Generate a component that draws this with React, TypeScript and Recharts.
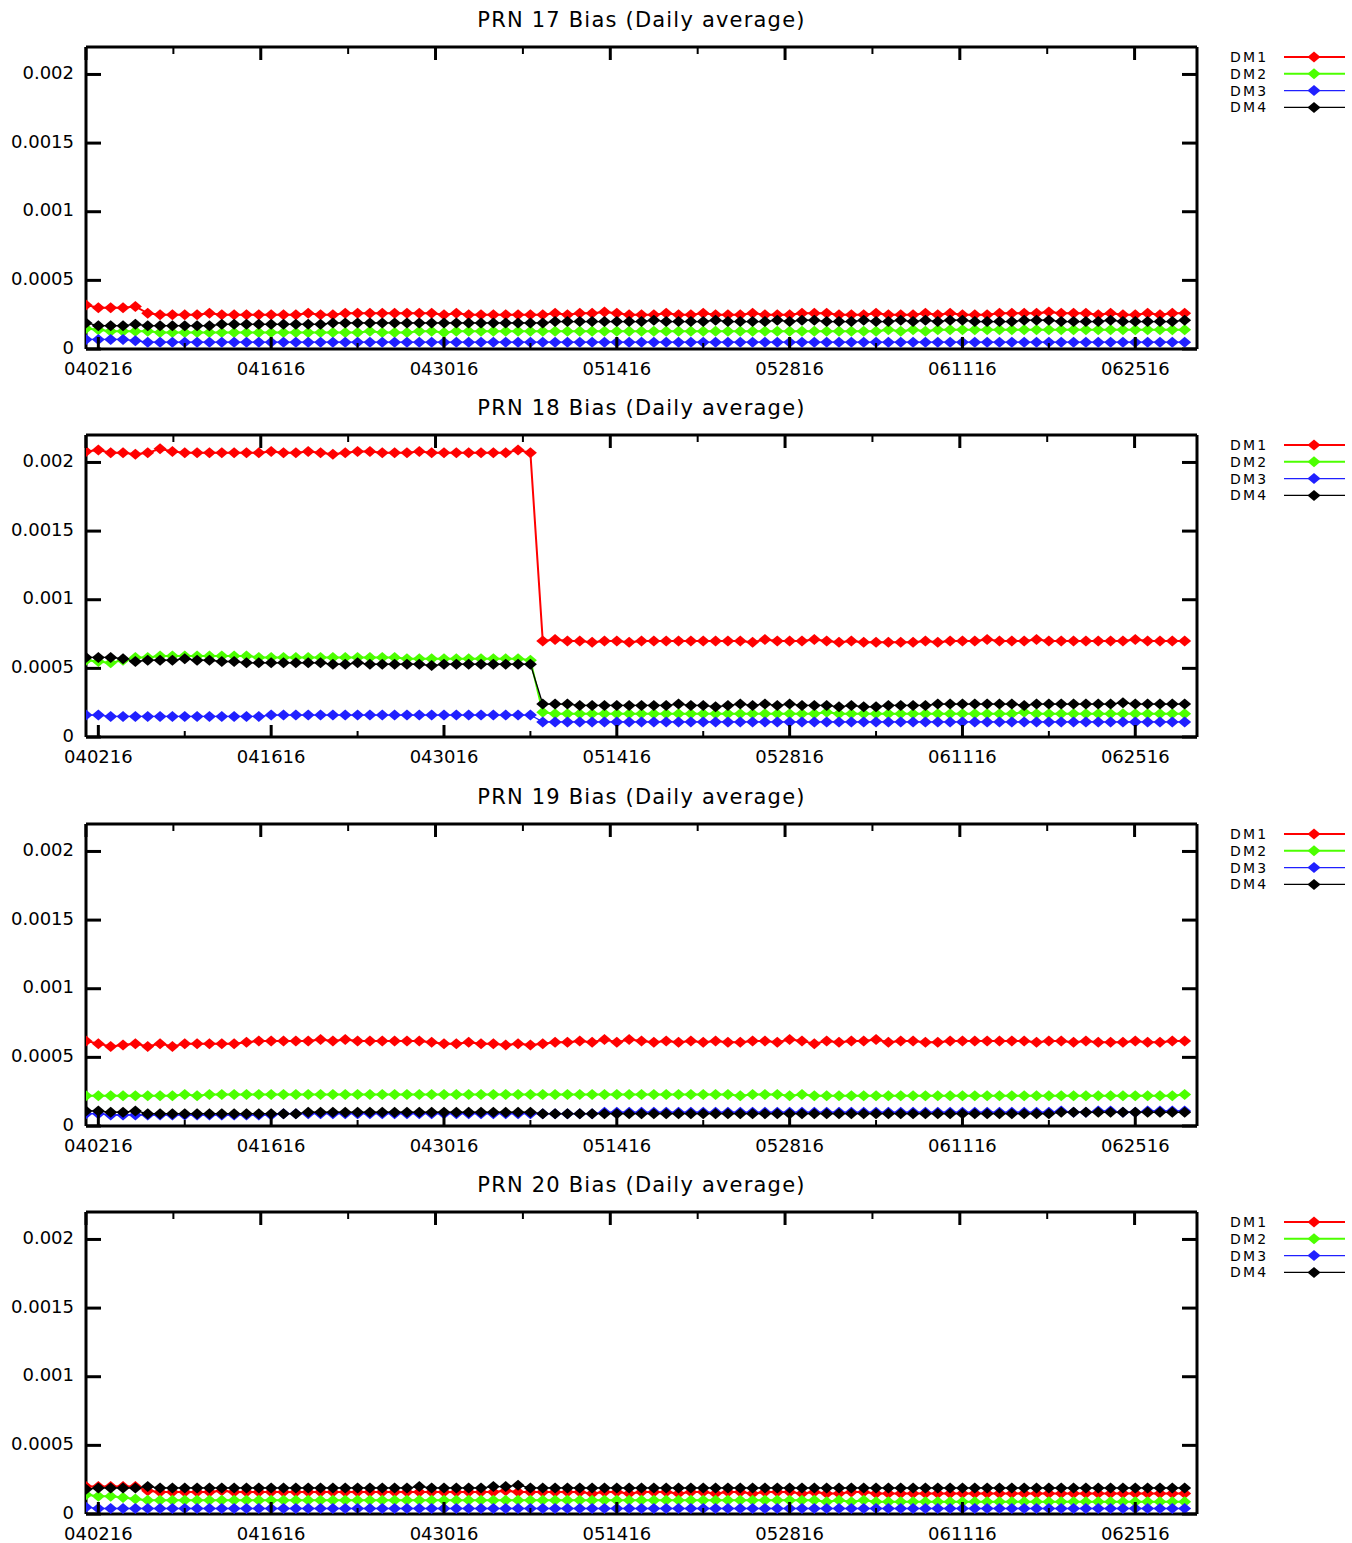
import React from "react";
import { LineChart, Line, XAxis, YAxis, Legend } from "recharts";

// values are in units of 1e-5, one point per day from 040116 to 062916
const UNIT = 1e-5;

const prn17Dm1 = [
  32, 30, 30, 30, 31, 26, 25, 25, 25, 25,
  26, 25, 25, 25, 25, 25, 25, 25, 26, 25,
  25, 26, 26, 26, 26, 26, 26, 26, 26, 25,
  26, 25, 25, 25, 25, 25, 25, 25, 26, 25,
  26, 26, 27, 26, 25, 25, 25, 26, 25, 25,
  26, 25, 25, 25, 26, 25, 25, 25, 26, 26,
  26, 25, 25, 25, 26, 25, 25, 25, 26, 25,
  26, 25, 25, 25, 26, 26, 26, 26, 27, 26,
  26, 26, 25, 26, 25, 25, 26, 25, 26, 26,
];
const prn17Dm2 = [
  15, 14, 13, 13, 13, 13, 12, 12, 12, 12,
  12, 12, 12, 12, 12, 12, 12, 12, 12, 12,
  12, 12, 12, 13, 12, 12, 12, 13, 13, 12,
  13, 13, 13, 13, 13, 13, 13, 13, 13, 13,
  13, 13, 13, 13, 13, 13, 13, 13, 13, 13,
  13, 13, 13, 13, 13, 13, 13, 13, 13, 13,
  13, 13, 13, 13, 13, 14, 13, 14, 13, 14,
  14, 14, 14, 14, 14, 14, 14, 14, 14, 14,
  14, 14, 14, 14, 14, 14, 14, 14, 14, 14,
];
const prn17Dm3 = [
  7, 7, 7, 7, 6, 5, 5, 5, 5, 5,
  5, 5, 5, 5, 5, 5, 5, 5, 5, 5,
  5, 5, 5, 5, 5, 5, 5, 5, 5, 5,
  5, 5, 5, 5, 5, 5, 5, 5, 5, 5,
  5, 5, 5, 5, 5, 5, 5, 5, 5, 5,
  5, 5, 5, 5, 5, 5, 5, 5, 5, 5,
  5, 5, 5, 5, 5, 5, 5, 5, 5, 5,
  5, 5, 5, 5, 5, 5, 5, 5, 5, 5,
  5, 5, 5, 5, 5, 5, 5, 5, 5, 5,
];
const prn17Dm4 = [
  19, 17, 17, 17, 18, 17, 17, 17, 17, 17,
  17, 18, 18, 18, 18, 18, 18, 18, 18, 18,
  19, 19, 19, 19, 19, 19, 19, 19, 19, 19,
  19, 19, 19, 19, 19, 19, 19, 19, 20, 20,
  20, 20, 20, 20, 20, 20, 21, 20, 20, 20,
  20, 21, 20, 20, 20, 20, 21, 20, 21, 21,
  20, 20, 20, 21, 20, 20, 21, 20, 21, 20,
  21, 21, 20, 20, 20, 20, 21, 21, 21, 20,
  20, 20, 20, 21, 20, 20, 20, 20, 20, 21,
];

const prn18Dm1 = [
  208, 209, 207, 207, 206, 207, 210, 208, 207, 207,
  207, 207, 207, 207, 207, 208, 207, 207, 208, 207,
  206, 207, 208, 208, 207, 207, 207, 208, 207, 207,
  207, 207, 207, 207, 207, 209, 207, 70, 71, 70,
  70, 69, 70, 70, 69, 70, 70, 70, 70, 70,
  70, 70, 70, 70, 69, 71, 70, 70, 70, 71,
  70, 69, 70, 69, 69, 69, 69, 69, 70, 69,
  70, 70, 70, 71, 70, 70, 70, 71, 70, 70,
  70, 70, 70, 70, 70, 71, 70, 70, 70, 70,
];
const prn18Dm2 = [
  56, 55, 54, 56, 58, 58, 59, 59, 59, 59,
  59, 59, 59, 59, 58, 58, 58, 58, 58, 58,
  58, 58, 58, 58, 58, 58, 57, 57, 57, 57,
  57, 57, 57, 57, 57, 57, 56, 18, 17, 17,
  17, 17, 17, 17, 17, 17, 17, 17, 17, 17,
  17, 17, 17, 17, 17, 17, 17, 17, 17, 17,
  18, 17, 17, 17, 17, 17, 17, 17, 17, 17,
  17, 17, 17, 17, 17, 17, 18, 17, 17, 17,
  17, 17, 17, 17, 17, 17, 17, 17, 17, 17,
];
const prn18Dm3 = [
  16, 16, 15, 15, 15, 15, 15, 15, 15, 15,
  15, 15, 15, 15, 15, 16, 16, 16, 16, 16,
  16, 16, 16, 16, 16, 16, 16, 16, 16, 16,
  16, 16, 16, 16, 16, 16, 16, 11, 11, 11,
  11, 11, 11, 11, 11, 11, 11, 11, 11, 11,
  11, 11, 11, 11, 11, 11, 11, 11, 11, 11,
  11, 11, 11, 11, 11, 11, 11, 11, 11, 11,
  11, 11, 11, 11, 11, 11, 11, 11, 11, 11,
  11, 11, 11, 11, 11, 11, 11, 11, 11, 11,
];
const prn18Dm4 = [
  58, 58, 58, 57, 55, 56, 56, 56, 57, 56,
  56, 55, 55, 54, 54, 54, 54, 54, 54, 54,
  53, 53, 54, 53, 53, 53, 53, 53, 52, 53,
  53, 53, 53, 53, 53, 53, 53, 24, 24, 24,
  23, 23, 23, 23, 23, 23, 23, 23, 24, 23,
  23, 22, 23, 24, 23, 24, 23, 24, 23, 23,
  23, 22, 23, 22, 22, 23, 23, 23, 23, 24,
  24, 24, 24, 24, 24, 24, 23, 24, 24, 24,
  24, 24, 24, 24, 25, 24, 24, 24, 24, 24,
];

const prn19Dm1 = [
  62, 60, 58, 59, 60, 58, 60, 58, 60, 60,
  60, 60, 60, 61, 62, 62, 62, 62, 62, 63,
  62, 63, 62, 62, 62, 62, 62, 62, 61, 60,
  60, 61, 60, 60, 59, 60, 59, 60, 61, 61,
  62, 61, 63, 61, 63, 62, 61, 62, 61, 62,
  61, 62, 61, 61, 62, 62, 61, 63, 62, 60,
  62, 61, 62, 62, 63, 61, 62, 62, 61, 61,
  62, 62, 62, 62, 62, 62, 62, 61, 62, 62,
  61, 62, 61, 61, 61, 62, 61, 61, 62, 62,
];
const prn19Dm2 = [
  22, 22, 22, 22, 22, 22, 22, 22, 23, 22,
  23, 23, 23, 23, 23, 23, 23, 23, 23, 23,
  23, 23, 23, 23, 23, 23, 23, 23, 23, 23,
  23, 23, 23, 23, 23, 23, 23, 23, 23, 23,
  23, 23, 23, 23, 23, 23, 23, 23, 23, 23,
  23, 23, 23, 22, 23, 23, 23, 22, 23, 22,
  22, 22, 22, 22, 22, 22, 22, 22, 22, 22,
  22, 22, 22, 22, 22, 22, 22, 22, 22, 22,
  22, 22, 22, 22, 22, 22, 22, 22, 22, 23,
];
const prn19Dm3 = [
  9, 9, 8, 8, 8, 8, 8, 8, 8, 8,
  8, 8, 8, 8, 8, 8, 9, 9, 9, 9,
  9, 9, 9, 9, 9, 9, 9, 9, 9, 9,
  9, 9, 9, 9, 9, 9, 9, 9, 9, 9,
  9, 9, 10, 10, 10, 10, 10, 10, 10, 10,
  10, 10, 10, 10, 10, 10, 10, 10, 10, 10,
  10, 10, 10, 10, 10, 10, 10, 10, 10, 10,
  10, 10, 10, 10, 10, 10, 10, 10, 10, 11,
  10, 10, 11, 11, 10, 10, 11, 11, 11, 11,
];
const prn19Dm4 = [
  11, 11, 10, 10, 11, 9, 9, 9, 9, 9,
  9, 9, 9, 9, 9, 9, 9, 9, 10, 10,
  10, 10, 10, 10, 10, 10, 10, 10, 10, 10,
  10, 10, 10, 10, 10, 10, 10, 9, 9, 9,
  9, 9, 9, 9, 9, 9, 9, 9, 9, 9,
  9, 9, 9, 9, 9, 9, 9, 9, 9, 9,
  9, 9, 9, 9, 9, 9, 9, 9, 9, 9,
  9, 9, 9, 9, 9, 9, 9, 9, 9, 10,
  10, 10, 10, 10, 10, 10, 10, 10, 10, 10,
];

const prn20Dm1 = [
  20, 20, 20, 20, 20, 17, 16, 16, 16, 16,
  16, 17, 16, 16, 16, 16, 16, 16, 16, 16,
  16, 16, 16, 16, 16, 16, 16, 16, 16, 16,
  16, 16, 16, 16, 17, 16, 16, 16, 16, 16,
  16, 15, 16, 16, 15, 16, 16, 16, 15, 16,
  16, 15, 16, 16, 15, 16, 16, 16, 15, 16,
  15, 15, 16, 16, 15, 15, 15, 15, 15, 15,
  15, 15, 15, 15, 15, 15, 15, 15, 15, 15,
  15, 15, 15, 15, 15, 15, 15, 15, 15, 15,
];
const prn20Dm2 = [
  14, 13, 13, 12, 11, 10, 10, 10, 10, 10,
  10, 10, 10, 10, 10, 10, 10, 10, 10, 10,
  10, 10, 10, 10, 10, 10, 10, 10, 10, 10,
  10, 10, 10, 10, 10, 10, 10, 10, 10, 10,
  10, 10, 10, 10, 10, 10, 10, 10, 10, 10,
  10, 10, 10, 10, 10, 10, 10, 10, 10, 10,
  9, 10, 9, 10, 9, 9, 9, 9, 9, 9,
  9, 9, 9, 9, 9, 9, 9, 9, 9, 9,
  9, 9, 9, 9, 9, 9, 9, 9, 9, 9,
];
const prn20Dm3 = [
  5, 4, 4, 4, 4, 4, 4, 4, 4, 4,
  4, 4, 4, 4, 4, 4, 4, 4, 4, 4,
  4, 4, 4, 4, 4, 4, 4, 4, 4, 4,
  4, 4, 4, 4, 4, 4, 4, 4, 4, 4,
  4, 4, 4, 4, 4, 4, 4, 4, 4, 4,
  4, 4, 4, 4, 4, 4, 4, 4, 4, 4,
  4, 4, 4, 4, 4, 4, 4, 4, 4, 4,
  4, 4, 4, 4, 4, 4, 4, 4, 4, 4,
  4, 4, 4, 4, 4, 4, 4, 4, 4, 4,
];
const prn20Dm4 = [
  18, 19, 19, 19, 19, 20, 19, 19, 19, 19,
  19, 19, 19, 19, 19, 19, 19, 19, 19, 19,
  19, 19, 19, 19, 19, 19, 19, 20, 19, 19,
  19, 19, 19, 20, 20, 21, 19, 19, 19, 19,
  19, 19, 19, 19, 19, 19, 19, 19, 19, 19,
  19, 19, 19, 19, 19, 19, 19, 19, 19, 19,
  19, 19, 19, 19, 19, 19, 19, 19, 19, 19,
  19, 19, 19, 19, 19, 19, 19, 19, 19, 19,
  19, 19, 19, 19, 19, 19, 19, 19, 19, 19,
];

const seriesNames = ["DM1", "DM2", "DM3", "DM4"];
const seriesColors = ["#ff0000", "#4cff00", "#2020ff", "#000000"];
const seriesWidths = [2, 2, 1.3, 1.3];

const xMajorTicks = [0, 14, 28, 42, 56, 70, 84];
const xMajorLabels = ["040216", "041616", "043016", "051416", "052816", "061116", "062516"];
const xMinorTicks = [7, 21, 35, 49, 63, 77];
const yTicks = [0, 0.0005, 0.001, 0.0015, 0.002];
const yTickLabels = ["0", "0.0005", "0.001", "0.0015", "0.002"];

const panels = [
  { title: "PRN 17 Bias (Daily average)", series: [prn17Dm1, prn17Dm2, prn17Dm3, prn17Dm4] },
  { title: "PRN 18 Bias (Daily average)", series: [prn18Dm1, prn18Dm2, prn18Dm3, prn18Dm4] },
  { title: "PRN 19 Bias (Daily average)", series: [prn19Dm1, prn19Dm2, prn19Dm3, prn19Dm4] },
  { title: "PRN 20 Bias (Daily average)", series: [prn20Dm1, prn20Dm2, prn20Dm3, prn20Dm4] },
];
const panelTops = [0, 388, 777, 1165];

const FONT = "'DejaVu Sans', sans-serif";
const allXTicks = [...xMajorTicks, ...xMinorTicks].sort((a, b) => a - b);

const diamond = (cx: number, cy: number) =>
  `${cx},${cy - 5.5} ${cx + 6.5},${cy} ${cx},${cy + 5.5} ${cx - 6.5},${cy}`;

const BottomTick = ({ x, y, payload }: any) => {
  const i = xMajorTicks.indexOf(payload.value);
  return (
    <g>
      <line x1={x} x2={x} y1={y} y2={y - (i >= 0 ? 12 : 6)} stroke="#000" strokeWidth={i >= 0 ? 3 : 2} />
      {i >= 0 && (
        <text x={x} y={y + 19} textAnchor="middle" dominantBaseline="central" fontSize={18} fontFamily={FONT} fill="#000">
          {xMajorLabels[i]}
        </text>
      )}
    </g>
  );
};

const TopTick = ({ x, y, payload }: any) => {
  const major = xMajorTicks.includes(payload.value);
  return <line x1={x} x2={x} y1={y} y2={y + (major ? 13 : 7)} stroke="#000" strokeWidth={major ? 3 : 2} />;
};

const LeftTick = ({ x, y, payload }: any) => {
  const i = yTicks.indexOf(payload.value);
  return (
    <g>
      <line x1={x} x2={x + 15} y1={y} y2={y} stroke="#000" strokeWidth={3} />
      <text x={x - 12} y={y - 2} textAnchor="end" dominantBaseline="central" fontSize={18} fontFamily={FONT} fill="#000">
        {yTickLabels[i]}
      </text>
    </g>
  );
};

const RightTick = ({ x, y }: any) => (
  <line x1={x} x2={x - 15} y1={y} y2={y} stroke="#000" strokeWidth={3} />
);

const LegendBox = ({ payload }: any) => (
  <svg width={124} height={72}>
    {(payload || []).map((p: any, i: number) => {
      const y = 10 + i * 16.8;
      return (
        <g key={p.value}>
          <text x={2} y={y} dominantBaseline="central" fontSize={14} letterSpacing={2.2} fontFamily={FONT} fill="#000">
            {p.value}
          </text>
          <line x1={56} x2={117} y1={y} y2={y} stroke={seriesColors[i]} strokeWidth={seriesWidths[i]} />
          <polygon points={diamond(86, y)} fill={seriesColors[i]} />
        </g>
      );
    })}
  </svg>
);

const Panel = ({ title, series }: { title: string; series: number[][] }) => {
  const rows = series[0].map((_, i) => ({
    day: i - 1,
    dm1: series[0][i] * UNIT,
    dm2: series[1][i] * UNIT,
    dm3: series[2][i] * UNIT,
    dm4: series[3][i] * UNIT,
  }));
  return (
    <div style={{ position: "relative", width: 1352, height: 388 }}>
      <div
        style={{
          position: "absolute",
          left: 86,
          width: 1111,
          top: 8,
          lineHeight: "24px",
          textAlign: "center",
          fontFamily: FONT,
          fontSize: 21,
          letterSpacing: "1.2px",
          color: "#000",
          zIndex: 2,
        }}
      >
        {title}
      </div>
      <LineChart width={1352} height={388} data={rows} margin={{ top: 0, right: 0, bottom: 0, left: 0 }}>
        <XAxis
          xAxisId={0}
          dataKey="day"
          type="number"
          domain={[-1, 89]}
          allowDataOverflow
          ticks={allXTicks}
          interval={0}
          height={39}
          tickSize={0}
          tickMargin={0}
          tickLine={false}
          axisLine={{ stroke: "#000", strokeWidth: 3 }}
          tick={<BottomTick />}
        />
        <XAxis
          xAxisId="top"
          orientation="top"
          type="number"
          domain={[-1, 89]}
          allowDataOverflow
          ticks={allXTicks}
          interval={0}
          height={47}
          tickSize={0}
          tickMargin={0}
          tickLine={false}
          axisLine={{ stroke: "#000", strokeWidth: 3 }}
          tick={<TopTick />}
        />
        <YAxis
          yAxisId={0}
          type="number"
          domain={[0, 0.0022]}
          allowDataOverflow
          ticks={yTicks}
          interval={0}
          width={86}
          tickSize={0}
          tickMargin={0}
          tickLine={false}
          axisLine={{ stroke: "#000", strokeWidth: 3 }}
          tick={<LeftTick />}
        />
        <YAxis
          yAxisId="right"
          orientation="right"
          type="number"
          domain={[0, 0.0022]}
          allowDataOverflow
          ticks={yTicks}
          interval={0}
          width={155}
          tickSize={0}
          tickMargin={0}
          tickLine={false}
          axisLine={{ stroke: "#000", strokeWidth: 3 }}
          tick={<RightTick />}
        />
        <Legend
          layout="horizontal"
          align="center"
          verticalAlign="middle"
          width={124}
          wrapperStyle={{ left: 1228, top: 47, width: 124, height: 72 }}
          content={<LegendBox />}
        />
        {["dm1", "dm2", "dm3", "dm4"].map((key, s) => (
          <Line
            key={key}
            dataKey={key}
            name={seriesNames[s]}
            type="linear"
            stroke={seriesColors[s]}
            strokeWidth={seriesWidths[s]}
            isAnimationActive={false}
            activeDot={false}
            dot={(p: any) => <polygon key={`${key}-${p.index}`} points={diamond(p.cx, p.cy)} fill={seriesColors[s]} />}
          />
        ))}
      </LineChart>
    </div>
  );
};

export default function App() {
  return (
    <div style={{ position: "absolute", left: 0, top: 0, width: 1352, height: 1543, background: "#fff" }}>
      {panels.map((p, i) => (
        <div key={p.title} style={{ position: "absolute", left: 0, top: panelTops[i] }}>
          <Panel title={p.title} series={p.series} />
        </div>
      ))}
    </div>
  );
}
